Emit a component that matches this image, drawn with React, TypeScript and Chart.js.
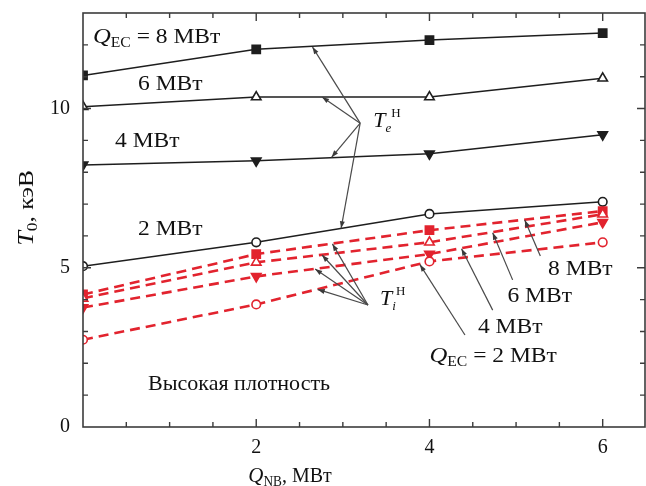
import React, { useEffect, useRef } from "react";
import { Chart, registerables } from "chart.js";
Chart.register(...registerables);

// ---- data ----
const qNB = [0, 2, 4, 6];
const te8 = [11.04, 11.86, 12.15, 12.37];
const te6 = [10.06, 10.36, 10.36, 10.95];
const te4 = [8.23, 8.36, 8.58, 9.18];
const te2 = [5.05, 5.8, 6.69, 7.07];
const ti8 = [4.16, 5.43, 6.18, 6.78];
const ti6 = [4.04, 5.17, 5.8, 6.68];
const ti4 = [3.75, 4.73, 5.43, 6.43];
const ti2 = [2.74, 3.85, 5.2, 5.8];
const xTickLabels = [2, 4, 6];
const yTickLabels = [0, 5, 10];

const FONT = '"Liberation Serif", "Times New Roman", serif';
const RED = "#e2232e";
const BLACK = "#1e1e1e";

type Seg = { t: string; size: number; italic?: boolean; dy?: number };

function richWidth(ctx: CanvasRenderingContext2D, segs: Seg[]) {
  let w = 0;
  for (const s of segs) {
    ctx.font = `${s.italic ? "italic " : ""}${s.size}px ${FONT}`;
    w += ctx.measureText(s.t).width;
  }
  return w;
}
function drawRich(ctx: CanvasRenderingContext2D, x: number, y: number, segs: Seg[], sx = 1) {
  ctx.save();
  ctx.translate(x, y);
  ctx.scale(sx, 1);
  let cx = 0;
  ctx.textBaseline = "alphabetic";
  ctx.textAlign = "left";
  for (const s of segs) {
    ctx.font = `${s.italic ? "italic " : ""}${s.size}px ${FONT}`;
    ctx.fillText(s.t, cx, s.dy || 0);
    cx += ctx.measureText(s.t).width;
  }
  ctx.restore();
}

// annotation texts (data coords: left x, baseline y; sx = horizontal stretch)
const labels: { x: number; y: number; sx: number; segs: Seg[] }[] = [
  { x: 0.115, y: 12.06, sx: 1.12, segs: [{ t: "Q", size: 22, italic: true }, { t: "EC", size: 14, dy: 4 }, { t: " = 8 МВт", size: 21 }] },
  { x: 0.635, y: 10.58, sx: 1.12, segs: [{ t: "6 МВт", size: 21 }] },
  { x: 0.37, y: 8.79, sx: 1.12, segs: [{ t: "4 МВт", size: 21 }] },
  { x: 0.635, y: 6.03, sx: 1.12, segs: [{ t: "2 МВт", size: 21 }] },
  { x: 3.35, y: 9.42, sx: 1, segs: [{ t: "T", size: 22, italic: true }, { t: "e", size: 13, italic: true, dy: 5 }, { t: "Н", size: 13, dy: -10 }] },
  { x: 3.43, y: 3.83, sx: 1, segs: [{ t: "T", size: 22, italic: true }, { t: "i", size: 13, italic: true, dy: 5 }, { t: "Н", size: 13, dy: -10 }] },
  { x: 5.37, y: 4.77, sx: 1.12, segs: [{ t: "8 МВт", size: 21 }] },
  { x: 4.9, y: 3.92, sx: 1.12, segs: [{ t: "6 МВт", size: 21 }] },
  { x: 4.56, y: 2.95, sx: 1.12, segs: [{ t: "4 МВт", size: 21 }] },
  { x: 4.0, y: 2.04, sx: 1.12, segs: [{ t: "Q", size: 22, italic: true }, { t: "EC", size: 14, dy: 4 }, { t: " = 2 МВт", size: 21 }] },
  { x: 0.75, y: 1.16, sx: 1.05, segs: [{ t: "Высокая плотность", size: 21 }] },
];

// arrows in data coords [fromX, fromY, toX, toY]
const arrows: number[][] = [
  [3.2, 9.54, 2.65, 11.93],
  [3.2, 9.54, 2.76, 10.36],
  [3.2, 9.54, 2.87, 8.47],
  [3.2, 9.54, 2.98, 6.24],
  [3.29, 3.83, 2.88, 5.75],
  [3.29, 3.83, 2.76, 5.4],
  [3.29, 3.83, 2.68, 4.96],
  [3.29, 3.83, 2.71, 4.32],
  [5.28, 5.37, 5.1, 6.5],
  [4.96, 4.62, 4.73, 6.1],
  [4.73, 3.67, 4.37, 5.6],
  [4.41, 2.89, 3.89, 5.1],
];

const framePlugin = {
  id: "frameAndNotes",
  afterDatasetsDraw(chart: any) {
    const ctx: CanvasRenderingContext2D = chart.ctx;
    const { left, right, top, bottom } = chart.chartArea;
    const xs = chart.scales.x;
    const ys = chart.scales.y;
    ctx.save();
    // arrows
    ctx.strokeStyle = "#4a4a4a";
    ctx.fillStyle = "#3a3a3a";
    ctx.lineWidth = 1.2;
    for (const a of arrows) {
      const x1 = xs.getPixelForValue(a[0]);
      const y1 = ys.getPixelForValue(a[1]);
      const x2 = xs.getPixelForValue(a[2]);
      const y2 = ys.getPixelForValue(a[3]);
      ctx.beginPath();
      ctx.moveTo(x1, y1);
      ctx.lineTo(x2, y2);
      ctx.stroke();
      const ang = Math.atan2(y2 - y1, x2 - x1);
      const L = 7, W = 2.5;
      ctx.beginPath();
      ctx.moveTo(x2, y2);
      ctx.lineTo(x2 - L * Math.cos(ang) + W * Math.sin(ang), y2 - L * Math.sin(ang) - W * Math.cos(ang));
      ctx.lineTo(x2 - L * Math.cos(ang) - W * Math.sin(ang), y2 - L * Math.sin(ang) + W * Math.cos(ang));
      ctx.closePath();
      ctx.fill();
    }
    // frame
    ctx.strokeStyle = "#3c3c3c";
    ctx.lineWidth = 1.6;
    ctx.strokeRect(left, top, right - left - 1, bottom - top);
    // ticks
    ctx.lineWidth = 1.4;
    ctx.beginPath();
    for (let v = 0.5; v <= 6.5; v += 0.5) {
      const px = xs.getPixelForValue(v);
      if (px > right - 2) continue;
      const len = v % 2 === 0 ? 8 : 5;
      ctx.moveTo(px, bottom);
      ctx.lineTo(px, bottom - len);
      ctx.moveTo(px, top);
      ctx.lineTo(px, top + len);
    }
    for (let v = 1; v <= 12; v += 1) {
      const py = ys.getPixelForValue(v);
      const len = v % 5 === 0 ? 8 : 5;
      ctx.moveTo(left, py);
      ctx.lineTo(left + len, py);
      ctx.moveTo(right - 1, py);
      ctx.lineTo(right - 1 - len, py);
    }
    ctx.stroke();
    // labels
    ctx.fillStyle = "#111";
    for (const l of labels) {
      drawRich(ctx, xs.getPixelForValue(l.x), ys.getPixelForValue(l.y), l.segs, l.sx);
    }
    // x title
    const xt: Seg[] = [{ t: "Q", size: 22, italic: true }, { t: "NB", size: 14, dy: 4 }, { t: ", МВт", size: 21 }];
    const xw = richWidth(ctx, xt) * 0.95;
    drawRich(ctx, 290 - xw / 2, 482, xt, 0.95);
    // y title
    const yt: Seg[] = [{ t: "T", size: 23, italic: true }, { t: "0", size: 15, dy: 4 }, { t: ", кэВ", size: 22 }];
    const yw = richWidth(ctx, yt) * 1.15;
    ctx.translate(33, 208);
    ctx.rotate(-Math.PI / 2);
    drawRich(ctx, -yw / 2, 0, yt, 1.15);
    ctx.restore();
  },
};

function makePts(ys: number[]) {
  return qNB.map((x, i) => ({ x, y: ys[i] }));
}

function zeroPad(s: any) {
  s.paddingTop = 0;
  s.paddingBottom = 0;
  s.paddingLeft = 0;
  s.paddingRight = 0;
}

export default function App() {
  const ref = useRef<HTMLCanvasElement>(null);
  useEffect(() => {
    const c = ref.current!;
    const teStyle = { borderColor: BLACK, borderWidth: 1.5, pointBorderWidth: 1.6, clip: 0 };
    const tiStyle = { borderColor: RED, borderWidth: 2.6, borderDash: [10, 6], pointBorderWidth: 1.6, clip: 0 };
    const circ = { pointStyle: "circle", pointRadius: 4.3 };
    const triUp = { pointStyle: "triangle", pointRadius: 5.5 };
    const triDn = { pointStyle: "triangle", rotation: 180, pointRadius: 5.5 };
    const sq = { pointStyle: "rect", pointRadius: 5.8 };
    const chart = new Chart(c, {
      type: "line",
      data: {
        datasets: [
          { ...tiStyle, ...circ, data: makePts(ti2), pointBackgroundColor: "#fff", pointBorderColor: RED },
          { ...tiStyle, ...triDn, data: makePts(ti4), pointBackgroundColor: RED, pointBorderColor: RED },
          { ...tiStyle, ...triUp, data: makePts(ti6), pointBackgroundColor: "#fff", pointBorderColor: RED },
          { ...tiStyle, ...sq, data: makePts(ti8), pointBackgroundColor: RED, pointBorderColor: RED },
          { ...teStyle, ...circ, data: makePts(te2), pointBackgroundColor: "#fff", pointBorderColor: BLACK },
          { ...teStyle, ...triDn, data: makePts(te4), pointBackgroundColor: BLACK, pointBorderColor: BLACK },
          { ...teStyle, ...triUp, data: makePts(te6), pointBackgroundColor: "#fff", pointBorderColor: BLACK },
          { ...teStyle, ...sq, data: makePts(te8), pointBackgroundColor: BLACK, pointBorderColor: BLACK },
        ] as any,
      },
      options: {
        animation: false,
        responsive: false,
        layout: { autoPadding: false, padding: { top: 13, right: 0, left: 0, bottom: 0 } },
        plugins: { legend: { display: false }, tooltip: { enabled: false } },
        scales: {
          x: {
            type: "linear",
            min: 0,
            max: 6.5,
            afterFit: (s: any) => { s.height = 59; zeroPad(s); },
            grid: { display: false, drawTicks: false },
            border: { display: false },
            afterBuildTicks: (s: any) => { s.ticks = xTickLabels.map((v) => ({ value: v })); },
            ticks: { padding: 9, color: "#111", font: { family: FONT, size: 20 }, maxRotation: 0 },
          },
          y: {
            type: "linear",
            min: 0,
            max: 13,
            afterFit: (s: any) => { s.width = 83; zeroPad(s); },
            grid: { display: false, drawTicks: false },
            border: { display: false },
            afterBuildTicks: (s: any) => { s.ticks = yTickLabels.map((v) => ({ value: v })); },
            ticks: { padding: 13, color: "#111", font: { family: FONT, size: 20 } },
          },
        },
      },
      plugins: [framePlugin],
    } as any);
    return () => chart.destroy();
  }, []);
  return (
    <div style={{ position: "fixed", left: 0, top: 0, width: 646, height: 486, background: "#fff" }}>
      <canvas ref={ref} width={646} height={486} style={{ display: "block" }} />
    </div>
  );
}
